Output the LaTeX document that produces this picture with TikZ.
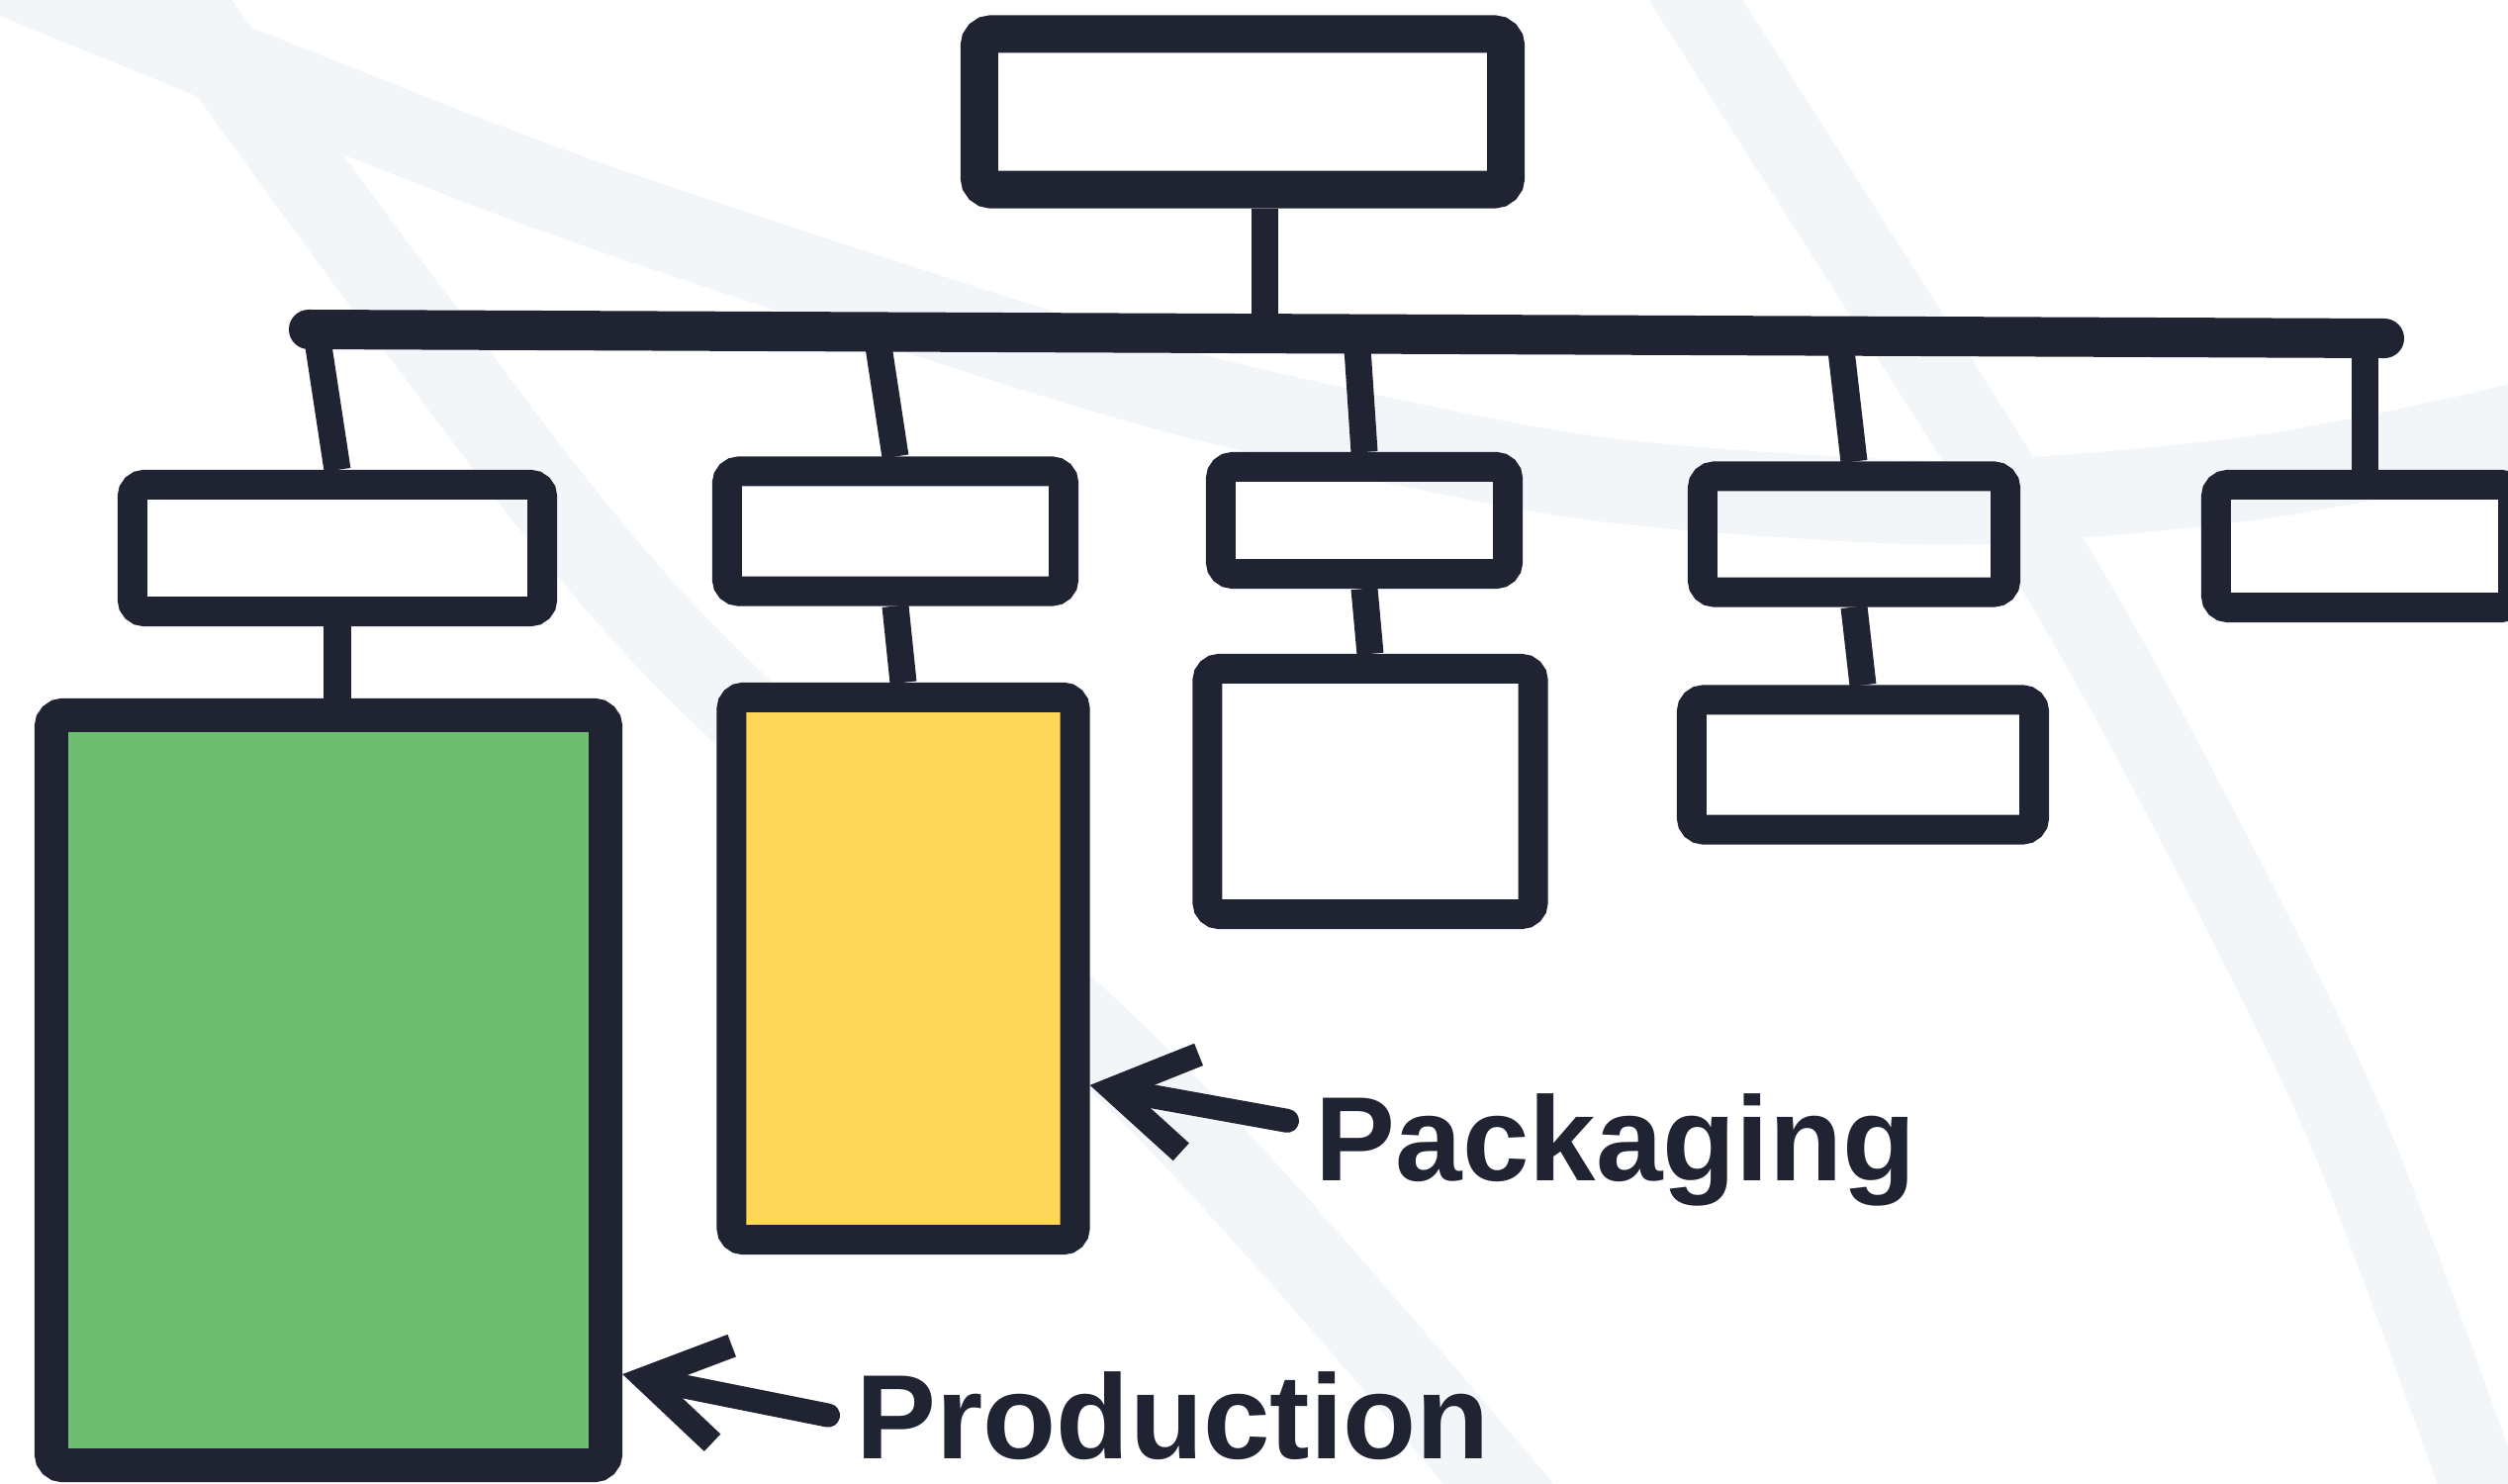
\documentclass[tikz,border=0pt]{standalone}
\usepackage{fontspec}
\setmainfont{Liberation Sans}
\usetikzlibrary{arrows.meta}
\definecolor{chartInk}{RGB}{31,35,50}
\definecolor{chartGreen}{RGB}{110,190,114}
\definecolor{chartYellow}{RGB}{254,214,90}
\definecolor{chartBand}{RGB}{242,246,249}

\begin{document}
\begin{tikzpicture}[x=0.01cm, y=-0.01cm,
    band/.style={draw=chartBand, line width=0.85cm},
    unit/.style={draw=chartInk, line width=0.3cm, rounded corners=0.12cm, inner sep=0pt},
    link/.style={draw=chartInk, line width=0.27cm},
    pointer/.style={draw=chartInk, line width=0.24cm, line cap=round, -{Straight Barb[length=0.8cm, width=1cm]}},
    tag/.style={text=chartInk, font=\fontsize{34.5}{40}\selectfont\bfseries, inner ysep=0pt, inner xsep=0.28cm, anchor=base west}]

    \useasboundingbox (0,0) rectangle (2535,1500);
    \clip (0,0) rectangle (2535,1500);

    % Background bands
    \draw[band] plot[smooth] coordinates {(150,-50) (182,0) (413,317) (680,650) (1170,1110) (1515,1500) (1545,1550)};
    \draw[band] plot[smooth] coordinates {(-100,-72) (0,-30) (300,92) (600,207) (1051,355) (1268,415) (1600,482) (1914,507) (2077,503) (2300,480) (2535,432) (2650,390)};
    \draw[band, line width=0.8cm] plot[smooth] coordinates {(1690,-40) (1714,0) (2053,534) (2207,808) (2368,1132) (2506,1500) (2520,1550)};

    % Top level
    \node[unit, line width=0.38cm, minimum width=5.32cm, minimum height=1.57cm] (head) at (1256,113) {};

    % Second level
    \node[unit, minimum width=4.14cm, minimum height=1.28cm] (b1) at (341,554) {};
    \node[unit, minimum width=3.40cm, minimum height=1.21cm] (b2) at (905,537) {};
    \node[unit, minimum width=2.90cm, minimum height=1.08cm] (b3) at (1379,526) {};
    \node[unit, minimum width=3.06cm, minimum height=1.17cm] (b4) at (1874,540) {};
    \node[unit, minimum width=3.00cm, minimum height=1.24cm] (b5) at (2390,552) {};

    % Third level
    \node[unit, fill=chartGreen, line width=0.34cm, minimum width=5.60cm, minimum height=7.58cm] (green) at (332,1102) {};
    \node[unit, fill=chartYellow, minimum width=3.47cm, minimum height=5.48cm] (yel) at (913,979) {};
    \node[unit, minimum width=3.29cm, minimum height=2.48cm] (w3) at (1385,800) {};
    \node[unit, minimum width=3.46cm, minimum height=1.31cm] (w4) at (1883,773) {};

    % Bus bar and stems
    \coordinate (barL) at (312,333);
    \coordinate (barR) at (2410,342);
    \coordinate (hub) at (1278,337);
    \draw[link, line width=0.4cm, line cap=round] (barL) -- (barR);
    \draw[link] (head.south -| hub) -- (hub);
    \foreach \i/\x in {1/320, 2/886, 3/1371, 4/1859, 5/2390} {
        \coordinate (d\i) at (\x,337);
        \draw[link] (d\i) -- (b\i.north);
    }
    \draw[link] (b1.south) -- (b1.south |- green.north);
    \draw[link] (b2.south) -- (yel.north);
    \draw[link] (b3.south) -- (w3.north);
    \draw[link] (b4.south) -- (w4.north);

    % Labels
    \node[tag] (pack) at (1301,1193) {Packaging};
    \node[tag] (prod) at (837,1474) {Production};
    \draw[pointer] (pack.175) -- (yel.-32);
    \draw[pointer] (prod.west) -- (green.-44);
\end{tikzpicture}
\end{document}
